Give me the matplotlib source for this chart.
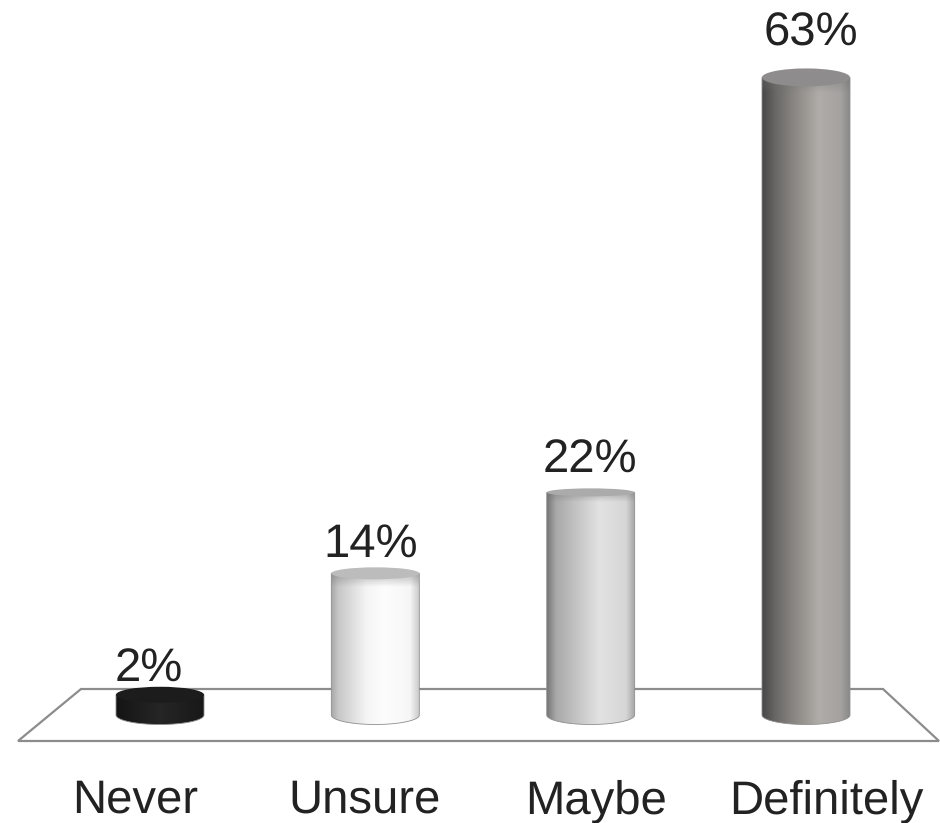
import numpy as np
import matplotlib
matplotlib.use("Agg")
import matplotlib.pyplot as plt
from matplotlib.colors import LinearSegmentedColormap
from matplotlib.patches import Ellipse, Polygon

categories = ["Never", "Unsure", "Maybe", "Definitely"]
values = [2, 14, 22, 63]
value_labels = ["2%", "14%", "22%", "63%"]

# pixel layout of the picture
W, H = 940, 823
X0, DX = 160.0, 215.33   # centre of first bar, bar spacing
Y0, DY = 715.0, 10.12    # baseline, pixels per percent
HALF_W = 44.0

# left to right shading of each cylinder
shades = [
    [(0, "#141414"), (0.5, "#262626"), (1, "#181818")],
    [(0, "#a6a6a6"), (0.08, "#c6c6c6"), (0.4, "#f4f4f4"), (0.6, "#fdfdfd"), (0.9, "#f6f6f6"), (1, "#cccccc")],
    [(0, "#777777"), (0.1, "#a8a8a8"), (0.3, "#c0c0c0"), (0.6, "#e2e2e2"), (0.9, "#d6d6d6"), (1, "#a4a4a4")],
    [(0, "#474747"), (0.15, "#696766"), (0.4, "#8f8c88"), (0.65, "#b0aca8"), (0.9, "#a4a1a0"), (1, "#8a8888")],
]
top_colors = ["#1c1c1c", "#bcbcbc", "#ababab", "#8e8c8c"]
top_ry = [8, 6, 4, 9]   # px, half height of the top ellipse
fade_px = [0, 14, 10, 16]   # px, soft dark band under the rim
bottom_ry = 9.5


def px_x(p):
    return (p - X0) / DX


def px_y(p):
    return (Y0 - p) / DY


plt.rcParams["font.family"] = ["Liberation Sans", "DejaVu Sans"]
plt.rcParams["text.hinting"] = "none"

fig = plt.figure(figsize=(W / 100, H / 100), dpi=100)
ax = fig.add_axes([0, 0, 1, 1])
ax.axis("off")

# floor
floor = [(18, 741), (81, 689), (883, 689), (939, 741)]
ax.add_patch(Polygon([(px_x(a), px_y(b)) for a, b in floor], closed=True,
                     fc="white", ec="#8c8c8c", lw=1.6, zorder=1))

hw = HALF_W / DX
theta = np.linspace(np.pi, 2 * np.pi, 40)
for i, val in enumerate(values):
    cmap = LinearSegmentedColormap.from_list("bar%d" % i, shades[i])
    # cylinder body, rounded at the foot
    xs = i + hw * np.cos(theta)
    ys = bottom_ry / DY * np.sin(theta)
    outline = np.column_stack([np.r_[i - hw, xs, i + hw], np.r_[val, ys, val]])
    body = Polygon(outline, closed=True, fc="none", ec="#8e8e8e", lw=0.6, zorder=2.5)
    ax.add_patch(body)
    im = ax.imshow(np.linspace(0, 1, 256).reshape(1, -1), cmap=cmap, aspect="auto",
                   extent=(i - hw, i + hw, -bottom_ry / DY, val), zorder=2)
    im.set_clip_path(body)
    if fade_px[i]:
        fade = np.zeros((64, 1, 4))
        fade[:, 0, :3] = 0.45
        fade[:, 0, 3] = np.linspace(0.45, 0, 64)
        band = ax.imshow(fade, aspect="auto", zorder=2.2,
                         extent=(i - hw, i + hw, val - fade_px[i] / DY, val))
        band.set_clip_path(body)
    ax.add_patch(Ellipse((i, val), 2 * hw, 2 * top_ry[i] / DY, fc=top_colors[i],
                         ec="none", zorder=3))

ax.set_xlim(px_x(0), px_x(W))
ax.set_ylim(px_y(H), px_y(0))

# labels do not sit exactly on the bar centres in the original
value_x = [149, 371, 590, 811]
value_base = [682, 557, 473, 46]
cat_x = [135, 365, 596, 826]
for i in range(len(values)):
    ax.text(px_x(value_x[i]), px_y(value_base[i]), value_labels[i], fontsize=34,
            color="#222222", ha="center", va="baseline", zorder=4)
    ax.text(px_x(cat_x[i]), px_y(813), categories[i], fontsize=34,
            color="#222222", ha="center", va="baseline", zorder=4)

fig.savefig("out.png", dpi=100)
